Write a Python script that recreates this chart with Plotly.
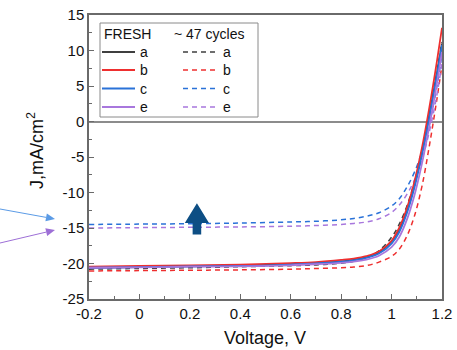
import math
import plotly.graph_objects as go

# ---- J-V data (voltage in V, current density in mA/cm^2) ----
voltage = [-0.2, 0.0, 0.2, 0.4, 0.6, 0.7, 0.8, 0.85, 0.9, 0.95, 1.0, 1.03, 1.06, 1.09, 1.12, 1.15, 1.18, 1.2]

fresh_a = [-20.6, -20.5, -20.4, -20.3, -20.1, -20.0, -19.7, -19.5, -19.1, -18.4, -16.9, -15.2, -12.6, -9.0, -4.4, 1.0, 6.8, 11.0]
fresh_b = [-20.45, -20.35, -20.25, -20.15, -19.95, -19.8, -19.5, -19.3, -18.95, -18.3, -16.8, -15.0, -12.3, -8.6, -3.8, 2.0, 8.5, 13.2]
fresh_c = [-20.6, -20.5, -20.4, -20.35, -20.15, -20.0, -19.75, -19.55, -19.2, -18.6, -17.2, -15.6, -13.0, -9.4, -4.8, 0.6, 6.6, 10.8]
fresh_e = [-20.6, -20.55, -20.45, -20.4, -20.25, -20.1, -19.9, -19.75, -19.45, -18.9, -17.7, -16.3, -13.9, -10.5, -6.0, -0.6, 5.4, 9.8]

aged_a = [-20.8, -20.7, -20.6, -20.45, -20.3, -20.2, -19.95, -19.7, -19.2, -18.2, -16.3, -14.5, -12.0, -8.6, -4.2, 1.0, 7.0, 11.2]
aged_b = [-21.05, -21.0, -20.95, -20.9, -20.8, -20.7, -20.6, -20.5, -20.3, -19.8, -19.0, -18.0, -16.2, -13.4, -9.2, -3.4, 3.2, 8.0]
aged_c = [-14.5, -14.45, -14.4, -14.3, -14.15, -14.05, -13.85, -13.65, -13.35, -12.85, -11.9, -10.9, -9.3, -7.2, -4.3, -0.3, 5.0, 9.5]
aged_e = [-15.0, -14.95, -14.9, -14.85, -14.75, -14.65, -14.5, -14.35, -14.15, -13.7, -12.8, -11.8, -10.3, -8.3, -5.4, -1.4, 3.8, 8.3]

sample_names = ["a", "b", "c", "e"]
sample_colors = ["#3f3f3f", "#ee2f2f", "#2a72d8", "#a877dd"]
fresh_series = [fresh_a, fresh_b, fresh_c, fresh_e]
aged_series = [aged_a, aged_b, aged_c, aged_e]

x_tick_vals = [-0.2, 0.0, 0.2, 0.4, 0.6, 0.8, 1.0, 1.2]
x_tick_labels = ["-0.2", "0", "0.2", "0.4", "0.6", "0.8", "1", "1.2"]
y_tick_vals = [-25, -20, -15, -10, -5, 0, 5, 10, 15]
y_tick_labels = ["-25", "-20", "-15", "-10", "-5", "0", "5", "10", "15"]

FONT = "Liberation Sans, Arial, sans-serif"
W, H = 457, 350
L, R, T, B = 89, 15, 15, 51


def px(xp):
    return (xp - L) / (W - L - R)


def py(yp):
    return 1 - (yp - T) / (H - T - B)


def pointer(x0, y0, x1, y1, color, head_len=9, head_half=4):
    """Thin line with a filled triangular head, given in page pixels."""
    dx, dy = x1 - x0, y1 - y0
    n = math.hypot(dx, dy)
    ux, uy = dx / n, dy / n
    bx, by = x1 - head_len * ux, y1 - head_len * uy
    qx, qy = -uy * head_half, ux * head_half
    line = dict(type="line", xref="paper", yref="paper",
                x0=px(x0), y0=py(y0), x1=px(bx), y1=py(by),
                line=dict(color=color, width=1))
    head = dict(type="path", xref="paper", yref="paper",
                path=(f"M {px(x1)},{py(y1)} L {px(bx + qx)},{py(by + qy)} "
                      f"L {px(bx - qx)},{py(by - qy)} Z"),
                fillcolor=color, line=dict(width=0))
    return [line, head]


fig = go.Figure()

# aged curves (dashed) drawn under the fresh ones
for name, color, ys in zip(sample_names, sample_colors, aged_series):
    fig.add_trace(go.Scatter(x=voltage, y=ys, mode="lines", name=name,
                             line=dict(color=color, width=1.5, dash="5px,4px", shape="spline"),
                             showlegend=False))
for name, color, ys in zip(sample_names, sample_colors, fresh_series):
    fig.add_trace(go.Scatter(x=voltage, y=ys, mode="lines", name=name,
                             line=dict(color=color, width=1.8, shape="spline"),
                             showlegend=False))

shapes = []
annotations = []

# legend box with two columns: fresh (solid) and after ~47 cycles (dashed)
shapes.append(dict(type="rect", xref="paper", yref="paper",
                   x0=px(100), x1=px(258), y0=py(117), y1=py(23),
                   line=dict(color="#8a8a8a", width=1), fillcolor="white"))
annotations.append(dict(xref="paper", yref="paper", x=px(102), y=py(34), text="FRESH",
                        showarrow=False, xanchor="left", yanchor="middle",
                        font=dict(family=FONT, size=14, color="#111")))
annotations.append(dict(xref="paper", yref="paper", x=px(172), y=py(34), text="~ 47 cycles",
                        showarrow=False, xanchor="left", yanchor="middle",
                        font=dict(family=FONT, size=14, color="#111")))
row_y = [52, 70, 88.5, 107]
for name, color, ry in zip(sample_names, sample_colors, row_y):
    shapes.append(dict(type="line", xref="paper", yref="paper",
                       x0=px(102), x1=px(135), y0=py(ry), y1=py(ry),
                       line=dict(color=color, width=1.8)))
    shapes.append(dict(type="line", xref="paper", yref="paper",
                       x0=px(183), x1=px(219), y0=py(ry), y1=py(ry),
                       line=dict(color=color, width=1.5, dash="5px,4px")))
    for xt in (138, 221):
        annotations.append(dict(xref="paper", yref="paper", x=px(xt), y=py(ry), text=name,
                                showarrow=False, xanchor="left", yanchor="middle",
                                font=dict(family=FONT, size=14, color="#111")))

# axis titles
annotations.append(dict(xref="paper", yref="paper", x=px(265), y=py(338), text="Voltage, V",
                        showarrow=False, xanchor="center", yanchor="middle",
                        font=dict(family=FONT, size=18, color="#111")))
annotations.append(dict(xref="paper", yref="paper", x=px(36), y=py(150),
                        text="J,mA/cm<sup>2</sup>", textangle=-90,
                        showarrow=False, xanchor="center", yanchor="middle",
                        font=dict(family=FONT, size=18, color="#111")))

# thick arrow marking the drop in current density
ax_c, hw, sw = 0.228, 0.048, 0.017
tip, base, tail = -11.5, -14.3, -15.9
shapes.append(dict(type="path", xref="x", yref="y",
                   path=(f"M {ax_c - sw},{tail} L {ax_c - sw},{base} L {ax_c - hw},{base} "
                         f"L {ax_c},{tip} L {ax_c + hw},{base} L {ax_c + sw},{base} "
                         f"L {ax_c + sw},{tail} Z"),
                   fillcolor="#0d4e84", line=dict(width=0)))

# thin pointers from the left toward the dashed c and e plateaus
shapes += pointer(0, 209, 55, 219, "#5b9be6")
shapes += pointer(0, 243, 55, 230, "#9d6fd6")

axis_common = dict(showgrid=False, showline=True, linecolor="#6a6a6a", linewidth=1.5,
                   mirror=True, ticks="inside", tickcolor="#6a6a6a", tickwidth=1,
                   automargin=False,
                   tickfont=dict(family=FONT, size=15, color="#111"))

fig.update_layout(
    width=W, height=H,
    margin=dict(l=L, r=R, t=T, b=B, pad=0),
    paper_bgcolor="white", plot_bgcolor="white",
    showlegend=False,
    shapes=shapes, annotations=annotations,
    xaxis=dict(range=[-0.2, 1.2], tickvals=x_tick_vals, ticktext=x_tick_labels,
               ticklen=5, zeroline=False,
               minor=dict(ticks="inside", dtick=0.1, ticklen=3, tickcolor="#6a6a6a"),
               **axis_common),
    yaxis=dict(range=[-25, 15], tickvals=y_tick_vals, ticktext=y_tick_labels,
               ticklen=5, zeroline=True, zerolinecolor="#8c8c8c", zerolinewidth=1.5,
               minor=dict(ticks="inside", dtick=2.5, ticklen=3, tickcolor="#6a6a6a"),
               **axis_common),
)

fig.write_html("out.html")
